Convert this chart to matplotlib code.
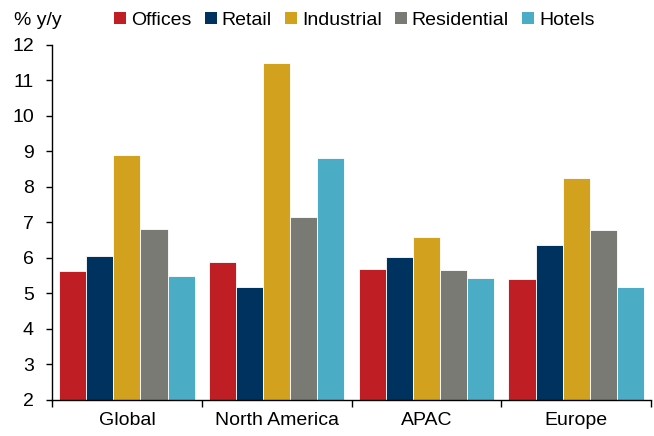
import numpy as np
import matplotlib.pyplot as plt
from matplotlib.patches import Patch

plt.rcParams['font.family'] = ['Liberation Sans', 'DejaVu Sans']

regions = ['Global', 'North America', 'APAC', 'Europe']
sectors = ['Offices', 'Retail', 'Industrial', 'Residential', 'Hotels']
offices = [5.63, 5.88, 5.70, 5.41]
retail = [6.07, 5.19, 6.02, 6.36]
industrial = [8.91, 11.49, 6.58, 8.25]
residential = [6.81, 7.16, 5.65, 6.79]
hotels = [5.48, 8.81, 5.45, 5.17]
colors = ['#BE1E24', '#00325F', '#D2A11E', '#7A7A75', '#4BACC6']

series = [offices, retail, industrial, residential, hotels]

fig = plt.figure(figsize=(6.54, 4.36), dpi=100)
ax = fig.add_axes([0.0795, 0.0826, 0.916, 0.8142])

x = np.arange(len(regions))
w = 0.181
for i, (vals, c) in enumerate(zip(series, colors)):
    ax.bar(x + (i - 2) * w, np.array(vals) - 2, w, bottom=2, color=c,
           edgecolor='white', linewidth=0.6)

ax.set_ylim(2, 12)
ax.set_xlim(-0.5, 3.5)
ax.set_yticks(range(2, 13))
ax.tick_params(axis='y', labelsize=14, length=4, width=1, direction='out', pad=9)

# group boundaries as major ticks, labels on minor ticks
ax.set_xticks(np.arange(-0.5, 4.0, 1.0))
ax.set_xticklabels([])
ax.set_xticks(x, minor=True)
ax.set_xticklabels(regions, minor=True, fontsize=14)
ax.tick_params(axis='x', which='major', length=5, width=1, direction='out')
ax.tick_params(axis='x', which='minor', length=0, pad=9)

for s in ['top', 'right']:
    ax.spines[s].set_visible(False)
for s in ['left', 'bottom']:
    ax.spines[s].set_linewidth(1)

fig.text(0.022, 0.953, '% y/y', fontsize=14, va='center')

handles = [Patch(facecolor=c, edgecolor='none') for c in colors]
fig.legend(handles, sectors, loc='center', bbox_to_anchor=(0.542, 0.953), ncol=5,
           frameon=False, fontsize=14, handlelength=0.6, handleheight=0.6,
           handletextpad=0.25, columnspacing=0.7)

fig.savefig('out.png', dpi=100)
